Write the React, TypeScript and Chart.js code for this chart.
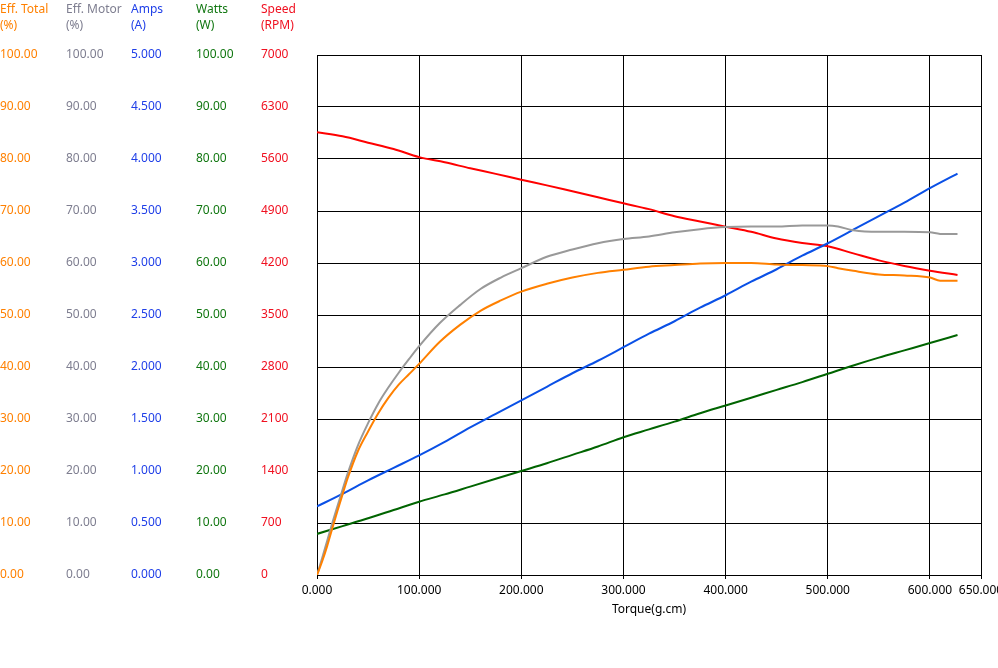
import React, { useEffect, useRef } from "react";
import { Chart, registerables } from "chart.js";

Chart.register(...registerables);

// ---- data ----
const effTorque = [0, 5, 10, 15, 20, 25, 30, 40, 50, 60, 70, 80, 90, 100, 120, 140, 160, 180, 200, 225, 250, 275, 300, 325, 350, 375, 400, 425, 450, 475, 500, 510, 525, 550, 575, 600, 610, 627];
const effTotal = [0, 2.6, 5.6, 9.0, 12.3, 15.5, 18.6, 23.8, 27.6, 31.1, 34.1, 36.6, 38.6, 40.6, 44.8, 48.1, 50.8, 52.8, 54.5, 56.0, 57.2, 58.1, 58.7, 59.3, 59.6, 59.9, 60.0, 60.0, 59.7, 59.6, 59.4, 59.0, 58.5, 57.8, 57.6, 57.2, 56.6, 56.6];
const effMotor = [0, 3.2, 6.6, 10.0, 13.2, 16.4, 19.5, 24.9, 29.2, 33.0, 36.1, 38.9, 41.5, 44.0, 48.4, 51.9, 55.0, 57.2, 59.0, 61.2, 62.6, 63.8, 64.6, 65.1, 65.9, 66.5, 66.9, 67.0, 67.0, 67.2, 67.2, 67.0, 66.3, 66.0, 66.0, 65.9, 65.6, 65.6];

const lineTorque = [0, 25, 50, 75, 100, 125, 150, 175, 200, 225, 250, 275, 300, 325, 350, 375, 400, 425, 450, 475, 500, 525, 550, 575, 600, 627];
const amps = [0.66, 0.78, 0.91, 1.03, 1.15, 1.28, 1.42, 1.55, 1.68, 1.81, 1.94, 2.06, 2.19, 2.32, 2.44, 2.57, 2.69, 2.82, 2.94, 3.07, 3.19, 3.32, 3.45, 3.58, 3.72, 3.86];
const watts = [7.9, 9.4, 10.9, 12.5, 14.1, 15.5, 17.0, 18.5, 20.0, 21.5, 23.1, 24.7, 26.5, 28.0, 29.5, 31.1, 32.6, 34.1, 35.6, 37.1, 38.7, 40.3, 41.8, 43.2, 44.6, 46.15];
const speed = [5960, 5905, 5820, 5735, 5625, 5555, 5475, 5400, 5320, 5245, 5165, 5085, 5004, 4925, 4830, 4760, 4689, 4620, 4530, 4470, 4425, 4330, 4235, 4160, 4097, 4038];

const xTicks = [0, 100, 200, 300, 400, 500, 600, 650];
const pctTicks = [0, 10, 20, 30, 40, 50, 60, 70, 80, 90, 100];
const ampTicks = [0, 0.5, 1, 1.5, 2, 2.5, 3, 3.5, 4, 4.5, 5];
const rpmTicks = [0, 700, 1400, 2100, 2800, 3500, 4200, 4900, 5600, 6300, 7000];

const xTitle = "Torque(g.cm)";

const FONT = "'Noto Sans', sans-serif";

// left-to-right order as displayed
const axisDefs = [
  { id: "yEffT", title: ["Eff. Total", "(%)"], color: "#FF8000", ticks: pctTicks, dec: 2, width: 66 },
  { id: "yEffM", title: ["Eff. Motor", "(%)"], color: "#7E7E90", ticks: pctTicks, dec: 2, width: 65 },
  { id: "yAmps", title: ["Amps", "(A)"], color: "#1F3FE8", ticks: ampTicks, dec: 3, width: 65 },
  { id: "yWatts", title: ["Watts", "(W)"], color: "#117711", ticks: pctTicks, dec: 2, width: 65 },
  { id: "ySpeed", title: ["Speed", "(RPM)"], color: "#F01020", ticks: rpmTicks, dec: 0, width: 56 },
];

const axisTitlesPlugin = {
  id: "axisTitles",
  afterDraw(chart: any) {
    const ctx = chart.ctx;
    ctx.save();
    ctx.font = `12px ${FONT}`;
    ctx.textBaseline = "middle";
    ctx.textAlign = "left";
    for (const d of axisDefs) {
      const s = chart.scales[d.id];
      ctx.fillStyle = d.color;
      d.title.forEach((t, i) => ctx.fillText(t, s.left, 10 + i * 16));
    }
    ctx.restore();
  },
};

function pts(xs: number[], ys: number[]) {
  return xs.map((x, i) => ({ x, y: ys[i] }));
}

export default function App() {
  const ref = useRef<HTMLCanvasElement | null>(null);

  useEffect(() => {
    if (!ref.current) return;
    const scales: any = {
      x: {
        type: "linear",
        position: "bottom",
        min: 0,
        max: 650,
        afterBuildTicks: (s: any) => {
          s.ticks = xTicks.map((v) => ({ value: v }));
        },
        afterFit: (s: any) => {
          s.height = 93;
          s.paddingLeft = 0;
          s.paddingRight = 0;
        },
        ticks: {
          autoSkip: false,
          maxRotation: 0,
          minRotation: 0,
          padding: 4,
          color: "#000",
          font: { family: FONT, size: 12 },
          callback: (v: any) => Number(v).toFixed(3),
        },
        grid: { color: "#000", lineWidth: 1, tickLength: 4, drawTicks: true },
        border: { display: false },
        title: {
          display: true,
          text: xTitle,
          color: "#000",
          font: { family: FONT, size: 12 },
          padding: { top: 0, bottom: 51 },
        },
      },
    };
    // Chart.js stacks left axes from the chart area outward, so add them innermost first
    [...axisDefs].reverse().forEach((d) => {
      const max = d.ticks[d.ticks.length - 1];
      const isGridAxis = d.id === "yEffT";
      scales[d.id] = {
        type: "linear",
        position: "left",
        min: 0,
        max,
        afterBuildTicks: (s: any) => {
          s.ticks = d.ticks.map((v) => ({ value: v }));
        },
        afterFit: (s: any) => {
          s.width = d.width;
        },
        ticks: {
          crossAlign: "far",
          padding: 0,
          color: d.color,
          font: { family: FONT, size: 12 },
          callback: (v: any) => Number(v).toFixed(d.dec),
        },
        grid: isGridAxis
          ? { display: true, color: "#000", lineWidth: 1, drawTicks: false }
          : { display: false, drawTicks: false },
        border: { display: false },
      };
    });

    const common = {
      borderWidth: 2,
      pointRadius: 0,
      pointHoverRadius: 0,
      fill: false,
      cubicInterpolationMode: "monotone" as const,
    };

    const chart = new Chart(ref.current, {
      type: "line",
      data: {
        datasets: [
          { ...common, label: "Eff. Total", data: pts(effTorque, effTotal), borderColor: "#FF8000", yAxisID: "yEffT" },
          { ...common, label: "Eff. Motor", data: pts(effTorque, effMotor), borderColor: "#999999", yAxisID: "yEffM" },
          { ...common, label: "Amps", data: pts(lineTorque, amps), borderColor: "#0A50E6", yAxisID: "yAmps" },
          { ...common, label: "Watts", data: pts(lineTorque, watts), borderColor: "#006400", yAxisID: "yWatts" },
          { ...common, label: "Speed", data: pts(lineTorque, speed), borderColor: "#FF0000", yAxisID: "ySpeed" },
        ],
      },
      options: {
        responsive: false,
        maintainAspectRatio: false,
        animation: false,
        devicePixelRatio: 1,
        layout: { padding: { left: 0, top: 55, right: 17, bottom: 0 } },
        plugins: { legend: { display: false }, tooltip: { enabled: false } },
        scales,
      },
      plugins: [axisTitlesPlugin],
    });
    return () => chart.destroy();
  }, []);

  return (
    <div style={{ position: "absolute", left: 0, top: 0, width: 998, height: 668, background: "#fff" }}>
      <canvas ref={ref} width={998} height={668} style={{ display: "block" }} />
    </div>
  );
}
